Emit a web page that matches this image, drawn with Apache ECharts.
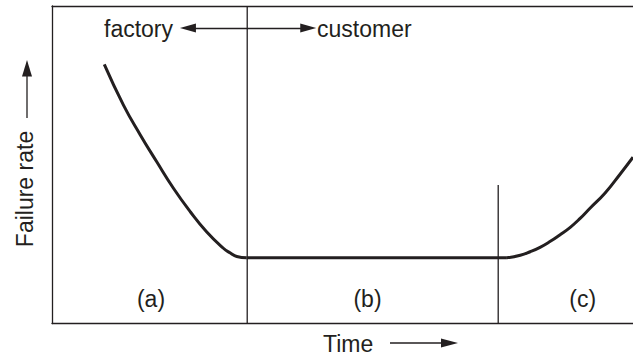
<!DOCTYPE html>
<html>
<head>
<meta charset="utf-8">
<title>Failure rate</title>
<script src="https://cdn.jsdelivr.net/npm/echarts@6/dist/echarts.min.js"></script>
<style>
  html, body { margin: 0; padding: 0; background: #fff; }
  #chart { width: 633px; height: 356px; }
</style>
</head>
<body>
<div id="chart"></div>
<script>
// bathtub curve, time and rate in arbitrary units (0-100)
const timeA = [9.0, 12.3, 15.2, 18.0, 20.9, 23.8, 26.6, 29.5, 30.7, 31.8, 33.5];
const rateA = [81.6, 68.8, 59.4, 51.0, 42.6, 35.2, 28.9, 23.7, 22.2, 21.1, 20.7];
const timeB = [33.5, 78.3];
const rateB = [20.7, 20.7];
const timeC = [78.3, 80.6, 82.3, 84.0, 85.7, 87.4, 89.2, 90.9, 92.6, 95.2, 97.8, 100];
const rateC = [20.7, 21.5, 22.6, 24.0, 25.8, 27.9, 30.3, 33.1, 36.3, 41.1, 47.1, 52.4];

// phase boundaries (factory/customer, end of useful life)
const phaseBounds = [33.6, 76.8];
const phaseTops = [100, 43.6];
const phaseNames = ["(a)", "(b)", "(c)"];
// factory <-> customer arrow
const handoverArrow = [23.4, 44.1];
const handoverLevel = 93.1;

const ink = "#231f20";
const font = "'Liberation Sans', Arial, Helvetica, sans-serif";

const pairs = (xs, ys) => xs.map((x, i) => [x, ys[i]]);

const chart = echarts.init(document.getElementById("chart"), null, { renderer: "svg" });

const curveStyle = { color: ink, width: 3 };
const thinStyle = { color: ink, width: 1.3 };

const series = [
  { type: "line", data: pairs(timeA, rateA), smooth: 0.5, symbol: "none", lineStyle: curveStyle },
  { type: "line", data: pairs(timeB, rateB), symbol: "none", lineStyle: curveStyle },
  { type: "line", data: pairs(timeC, rateC), smooth: 0.5, symbol: "none", lineStyle: curveStyle },
];
phaseBounds.forEach((x, i) => {
  series.push({
    type: "line",
    data: [[x, 0], [x, phaseTops[i]]],
    symbol: "none",
    lineStyle: thinStyle,
    z: 1,
  });
});
// handover arrow drawn as a markLine in data space
series.push({
  type: "line",
  data: [],
  markLine: {
    silent: true,
    symbol: ["triangle", "triangle"],
    symbolSize: [9, 16],
    label: { show: false },
    lineStyle: { color: ink, width: 1.3, type: "solid" },
    data: [[
      { coord: [handoverArrow[0], handoverLevel] },
      { coord: [handoverArrow[1], handoverLevel] },
    ]],
  },
});

const txt = (x, y, text, align, extra) => Object.assign({
  type: "text",
  x: x, y: y,
  style: { text: text, fill: ink, font: "23px " + font, align: align || "left", verticalAlign: "middle" },
}, extra || {});

const phaseCenters = [151, 367.5, 582.7];

const graphic = [
  txt(104, 28.5, "factory"),
  txt(317, 28.5, "customer"),
  txt(323, 344, "Time"),
  txt(25, 189, "Failure rate", "center", { rotation: Math.PI / 2 }),
  // Time arrow
  { type: "line", shape: { x1: 390, y1: 343, x2: 444, y2: 343 }, style: { stroke: ink, lineWidth: 1.3 } },
  { type: "polygon", shape: { points: [[458, 343], [441, 338.5], [441, 347.5]] }, style: { fill: ink } },
  // Failure rate arrow
  { type: "line", shape: { x1: 27, y1: 118, x2: 27, y2: 74 }, style: { stroke: ink, lineWidth: 1.3 } },
  { type: "polygon", shape: { points: [[27, 60], [22, 76.5], [32, 76.5]] }, style: { fill: ink } },
];
phaseNames.forEach((name, i) => graphic.push(txt(phaseCenters[i], 299, name, "center")));

chart.setOption({
  animation: false,
  backgroundColor: "#fff",
  grid: { left: 52, top: 6, right: 0, bottom: 32.5, show: false },
  xAxis: [
    {
      type: "value", min: 0, max: 100, position: "bottom",
      axisLine: { show: true, lineStyle: thinStyle },
      axisTick: { show: false }, axisLabel: { show: false }, splitLine: { show: false },
    },
    {
      type: "value", min: 0, max: 100, position: "top",
      axisLine: { show: true, lineStyle: thinStyle },
      axisTick: { show: false }, axisLabel: { show: false }, splitLine: { show: false },
    },
  ],
  yAxis: {
    type: "value", min: 0, max: 100,
    axisLine: { show: true, lineStyle: thinStyle },
    axisTick: { show: false }, axisLabel: { show: false }, splitLine: { show: false },
  },
  series: series,
  graphic: graphic,
});
</script>
</body>
</html>
